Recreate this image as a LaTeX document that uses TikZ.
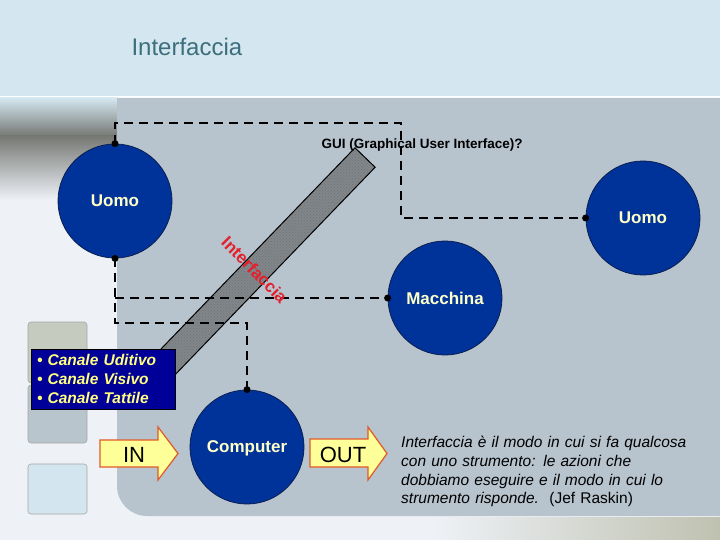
\documentclass[tikz,border=0pt]{standalone}
\usepackage{fontspec}
\setmainfont{Liberation Sans}
\usetikzlibrary{positioning, patterns}

\definecolor{headbg}{HTML}{D4E7F0}
\definecolor{panelbg}{HTML}{B7C3CD}
\definecolor{pagebg}{HTML}{EEF2F7}
\definecolor{shadowbg}{HTML}{767874}
\definecolor{sandbg}{HTML}{BFC1B0}
\definecolor{titlecol}{HTML}{3C6E7C}
\definecolor{blobcol}{HTML}{003399}
\definecolor{blobline}{HTML}{0A1E50}
\definecolor{labelcol}{HTML}{FFFFC8}
\definecolor{boxcol}{HTML}{000099}
\definecolor{boxtext}{HTML}{FFFF80}
\definecolor{flowfill}{HTML}{FFFF99}
\definecolor{flowline}{HTML}{E05A28}
\definecolor{ifacered}{HTML}{E3202C}
\definecolor{bandcol}{HTML}{80868A}
\definecolor{tileA}{HTML}{C6CBC0}
\definecolor{tileB}{HTML}{B9C5CC}
\definecolor{tileC}{HTML}{D3E5EE}

\begin{document}
\begin{tikzpicture}[x=1pt, y=-1pt,
  blob/.style={circle, draw=blobline, line width=0.8pt, fill=blobcol, minimum size=114pt,
    inner sep=0pt, text depth=0pt, text=labelcol, font=\fontsize{17}{20}\selectfont\bfseries},
  conn/.style={line width=2.6pt, dash pattern=on 9pt off 6pt},
  flow/.style={draw=flowline, line width=1.2pt, fill=flowfill},
  flowtext/.style={font=\fontsize{22}{24}\selectfont},
  tile/.style={draw=gray!70, line width=0.6pt, rounded corners=3pt}]

\useasboundingbox (0,0) rectangle (720,540);

% backdrop
\fill[pagebg] (0,0) rectangle (720,540);
\fill[headbg] (0,0) rectangle (720,96);
\fill[white] (0,96) rectangle (720,98);
\shade[top color=headbg, bottom color=shadowbg] (0,98) rectangle (117,136);
\shade[top color=shadowbg, bottom color=pagebg] (0,136) rectangle (117,200);
\shade[left color=pagebg, right color=sandbg] (430,517) rectangle (720,540);
\fill[panelbg] (117,98) -- (720,98) -- (720,516) -- (147,516)
  arc[start angle=90, end angle=180, radius=30] -- cycle;

% side tiles
\filldraw[tile, fill=tileA] (28,322) rectangle (87,383);
\filldraw[tile, fill=tileB] (28,385) rectangle (87,443);
\filldraw[tile, fill=tileC] (28,464) rectangle (87,514);

% the interface bar
\node[rotate=46.05, minimum width=320pt, minimum height=28pt, draw=black, line width=1pt,
  preaction={fill=bandcol}, pattern=crosshatch dots, pattern color=black!55] (bar) at (254,272.7) {};

% people and machines
\node[blob] (uomoL) at (115,201) {Uomo};
\node[blob] (uomoR) at (643,218) {Uomo};
\node[blob] (macchina) at (445,298) {Macchina};
\node[blob] (computer) at (247,447) {Computer};

% links
\coordinate (guiA) at (115,123);
\coordinate (guiB) at (401,123);
\coordinate (guiC) at (401,218);
\coordinate (split) at (115,298);
\coordinate (low) at (115,323);
\coordinate (bend) at (247,323);
\draw[conn] (uomoL.north) -- (guiA) -- (guiB) -- (guiC) -- (uomoR.west);
\draw[conn] (uomoL.south) -- (low) -- (bend) -- (computer.north);
\draw[conn] (split) -- (macchina.west);
\foreach \p in {uomoL.north, uomoL.south, uomoR.west, macchina.west, computer.north}
  \fill (\p) circle (3.5);

% texts
\node[anchor=base west, text=titlecol, font=\fontsize{24}{28}\selectfont] (title) at (128,56) {Interfaccia};
\node[anchor=base west, font=\fontsize{13.5}{16}\selectfont\bfseries] (gui) at (318,149)
  {GUI (Graphical User Interface)?};
\node[rotate=-45.4, text=ifacered, font=\fontsize{17}{20}\selectfont\bfseries] (barLabel) at (254.5,270) {Interfaccia};

\node[fill=boxcol, draw=black, line width=0.6pt, minimum width=144pt, minimum height=60pt,
  text width=132pt, inner xsep=6pt, align=left, text=boxtext,
  font=\fontsize{15.5}{19}\selectfont\bfseries\itshape] (canali) at (103,379)
  {\textbullet\ Canale Uditivo\\ \textbullet\ Canale Visivo\\ \textbullet\ Canale Tattile};

% in / out
\draw[flow] (100,440) -- (158,440) -- (158,427) -- (178,453.5) -- (158,480) -- (158,467) -- (100,467) -- cycle;
\node[flowtext, anchor=base] (inLabel) at (134,462) {IN};
\draw[flow] (310,439) -- (368,439) -- (368,427) -- (387,453.5) -- (368,480) -- (368,467) -- (310,467) -- cycle;
\node[flowtext, anchor=base] (outLabel) at (343,462) {OUT};

\node[anchor=north west, text width=320pt, inner sep=0pt, align=left,
  font=\fontsize{15.5}{18.7}\selectfont\itshape] (quote) at (401,436)
  {Interfaccia è il modo in cui si fa qualcosa\\ con uno strumento: le azioni che\\
   dobbiamo eseguire e il modo in cui lo\\ strumento risponde.\ \ {\upshape(Jef Raskin)}};
\end{tikzpicture}
\end{document}
